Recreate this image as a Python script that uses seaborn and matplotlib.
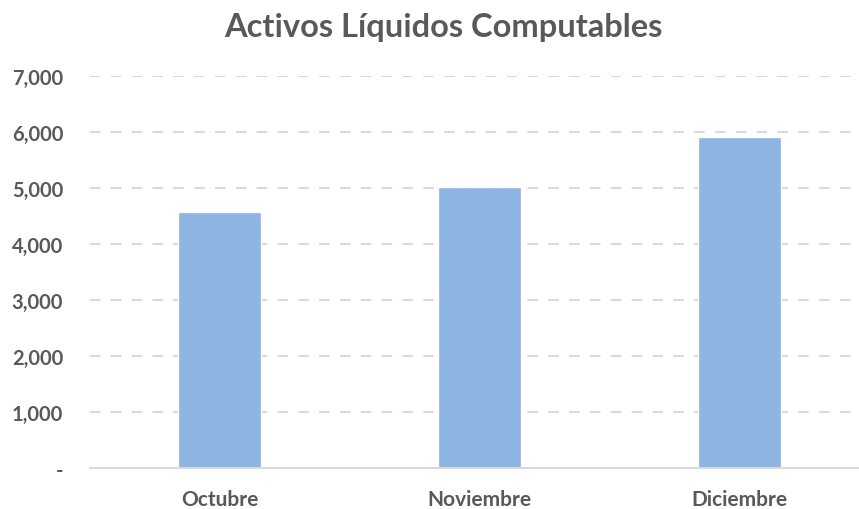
import matplotlib
matplotlib.use("Agg")
import matplotlib.pyplot as plt
import seaborn as sns
import pandas as pd
from matplotlib.ticker import FuncFormatter

categories = ["Octubre", "Noviembre", "Diciembre"]
values = [4570, 5020, 5910]
yticks = [0, 1000, 2000, 3000, 4000, 5000, 6000, 7000]
title = "Activos Líquidos Computables"

df = pd.DataFrame({"mes": categories, "valor": values})

sns.set_theme(style="white")
plt.rcParams["font.family"] = ["Lato", "DejaVu Sans"]

fig = plt.figure(figsize=(8.59, 5.10), dpi=100)
ax = fig.add_axes([89.5 / 859, (510 - 469) / 510, (859 - 89.5) / 859, (469 - 77) / 510])
sns.barplot(data=df, x="mes", y="valor", color="#8EB4E3", saturation=1, width=0.32, ax=ax)

ax.set_ylim(0, 7000)
ax.set_xlim(-0.5, 2.46)
ax.set_yticks(yticks)
ax.yaxis.set_major_formatter(FuncFormatter(lambda v, p: "-" if v == 0 else f"{int(v):,}"))
for y in yticks[1:]:
    ax.axhline(y, color="#D9D9D9", lw=1.5, ls=(0, (5, 5)), zorder=0)
ax.set_axisbelow(True)
for s in ["top", "right", "left"]:
    ax.spines[s].set_visible(False)
ax.spines["bottom"].set_color("#D9D9D9")
ax.spines["bottom"].set_linewidth(1.5)
ax.set_xlabel("")
ax.set_ylabel("")
ax.tick_params(axis="both", length=0, labelcolor="#595959")
ax.tick_params(axis="y", pad=19, labelsize=14.5)
ax.tick_params(axis="x", pad=15, labelsize=15)
for lab in ax.get_xticklabels() + ax.get_yticklabels():
    lab.set_fontweight("bold")
fig.text(443 / 859, 1 - 27 / 510, title, ha="center", va="center", fontsize=23.5,
         fontweight="bold", color="#595959")
fig.savefig("out.png", dpi=100)
